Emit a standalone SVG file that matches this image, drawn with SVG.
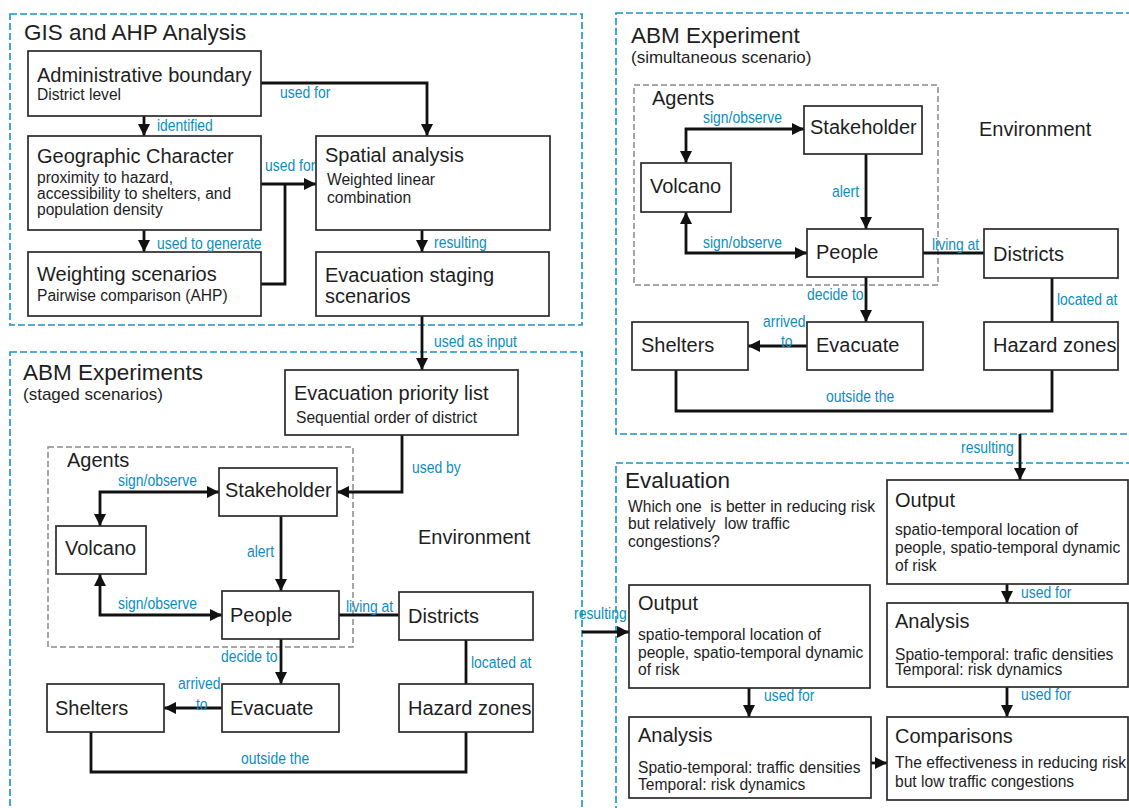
<svg xmlns="http://www.w3.org/2000/svg" width="1129" height="808" viewBox="0 0 1129 808">
  <style>
    .panel { fill: none; stroke: #1a93c4; stroke-width: 1.6; stroke-dasharray: 7 3; }
    .agents { fill: none; stroke: #8a8a8a; stroke-width: 1.5; stroke-dasharray: 6 3; }
    .box { fill: #fff; stroke: #2b2b2b; stroke-width: 1.7; }
    .wire { fill: none; stroke: #111; stroke-width: 2.8; stroke-linejoin: miter; }
    .arr { marker-end: url(#head); }
    .both { marker-start: url(#head); marker-end: url(#head); }
    text { font-family: "Liberation Sans", Arial, sans-serif; fill: #1e1e1e; }
    .ptitle { font-size: 22.5px; }
    .psub { font-size: 17px; }
    .title { font-size: 20px; }
    .sub { font-size: 15.6px; }
    .env { font-size: 20px; }
    .lbl { font-size: 17px; fill: #0c8dc0; }
    .pre { white-space: pre; }
  </style>
  <defs>
    <marker id="head" viewBox="0 0 12 12" refX="12" refY="6" markerWidth="12" markerHeight="12" markerUnits="userSpaceOnUse" orient="auto-start-reverse">
      <path d="M0,0 L12,6 L0,12 z" fill="#111"/>
    </marker>
  </defs>

  <rect width="1129" height="808" fill="#fff"/>

  <!-- Panel frames -->
  <g id="panels">
    <rect class="panel" x="10" y="14" width="572" height="311"/>
    <rect class="panel" x="10" y="352" width="572" height="470"/>
    <rect class="panel" x="616" y="13" width="520" height="421"/>
    <rect class="panel" x="616" y="463" width="520" height="360"/>
    <rect class="agents" x="48" y="447" width="305" height="200"/>
    <rect class="agents" x="634" y="85" width="304" height="200"/>
  </g>

  <!-- Panel headings -->
  <g id="headings">
    <text class="ptitle" x="24" y="40">GIS and AHP Analysis</text>
    <text class="ptitle" x="23" y="380">ABM Experiments</text>
    <text class="psub" x="23" y="400">(staged scenarios)</text>
    <text class="ptitle" x="631" y="43">ABM Experiment</text>
    <text class="psub" x="631" y="63">(simultaneous scenario)</text>
    <text class="ptitle" x="625" y="488">Evaluation</text>
    <text class="sub pre" xml:space="preserve" x="628" y="512">Which one  is better in reducing risk</text>
    <text class="sub pre" xml:space="preserve" x="628" y="529">but relatively  low traffic</text>
    <text class="sub" x="628" y="547">congestions?</text>
    <text class="env" x="67" y="467">Agents</text>
    <text class="env" x="652" y="105">Agents</text>
    <text class="env" x="418" y="544">Environment</text>
    <text class="env" x="979" y="136">Environment</text>
  </g>

  <!-- Connectors -->
  <g id="connectors">
    <polyline class="wire arr" points="261,83 427,83 427,136"/>
    <line class="wire arr" x1="144" y1="116" x2="144" y2="136"/>
    <line class="wire arr" x1="144" y1="230" x2="144" y2="252"/>
    <line class="wire arr" x1="261" y1="184" x2="316" y2="184"/>
    <polyline class="wire" points="261,284 285,284 285,184"/>
    <line class="wire arr" x1="422" y1="230" x2="422" y2="252"/>
    <line class="wire arr" x1="422" y1="316" x2="422" y2="370"/>

    <polyline class="wire arr" points="402,435 402,492 337,492"/>
    <polyline class="wire both" points="219,492 100,492 100,526"/>
    <line class="wire arr" x1="281" y1="516" x2="281" y2="591"/>
    <polyline class="wire both" points="100,574 100,615 222,615"/>
    <line class="wire" x1="339" y1="615" x2="399" y2="615"/>
    <line class="wire" x1="466" y1="640" x2="466" y2="684"/>
    <line class="wire arr" x1="281" y1="639" x2="281" y2="684"/>
    <line class="wire arr" x1="222" y1="708" x2="164" y2="708"/>
    <polyline class="wire" points="91,732 91,772 466,772 466,732"/>

    <polyline class="wire both" points="804,129 686,129 686,163"/>
    <line class="wire arr" x1="866" y1="154" x2="866" y2="229"/>
    <polyline class="wire both" points="686,212 686,253 807,253"/>
    <line class="wire" x1="923" y1="253" x2="984" y2="253"/>
    <line class="wire arr" x1="866" y1="277" x2="866" y2="322"/>
    <line class="wire" x1="1052" y1="278" x2="1052" y2="322"/>
    <line class="wire arr" x1="807" y1="346" x2="748" y2="346"/>
    <polyline class="wire" points="676,370 676,411 1052,411 1052,370"/>
    <line class="wire arr" x1="1020" y1="434" x2="1020" y2="480"/>

    <line class="wire arr" x1="582" y1="632" x2="629" y2="632"/>
    <line class="wire arr" x1="749" y1="688" x2="749" y2="717"/>
    <line class="wire arr" x1="871" y1="763" x2="887" y2="763"/>
    <line class="wire arr" x1="1007" y1="584" x2="1007" y2="603"/>
    <line class="wire arr" x1="1007" y1="687" x2="1007" y2="717"/>
  </g>

  <!-- GIS and AHP analysis nodes -->
  <g id="admin-boundary">
    <rect class="box" x="28" y="51" width="233" height="65"/>
    <text class="title" x="37" y="82">Administrative boundary</text>
    <text class="sub" x="37" y="100">District level</text>
  </g>
  <g id="geographic-character">
    <rect class="box" x="28" y="136" width="233" height="94"/>
    <text class="title" x="37" y="163">Geographic Character</text>
    <text class="sub" x="37" y="183">proximity to hazard,</text>
    <text class="sub" x="37" y="199">accessibility to shelters, and</text>
    <text class="sub" x="37" y="215">population density</text>
  </g>
  <g id="weighting-scenarios">
    <rect class="box" x="28" y="252" width="233" height="64"/>
    <text class="title" x="37" y="281">Weighting scenarios</text>
    <text class="sub" x="37" y="301">Pairwise comparison (AHP)</text>
  </g>
  <g id="spatial-analysis">
    <rect class="box" x="316" y="136" width="234" height="94"/>
    <text class="title" x="325" y="162">Spatial analysis</text>
    <text class="sub" x="327" y="185">Weighted linear</text>
    <text class="sub" x="327" y="203">combination</text>
  </g>
  <g id="evacuation-staging">
    <rect class="box" x="316" y="252" width="233" height="64"/>
    <text class="title" x="325" y="282">Evacuation staging</text>
    <text class="title" x="325" y="303">scenarios</text>
  </g>

  <!-- ABM staged scenario nodes -->
  <g id="priority-list">
    <rect class="box" x="285" y="370" width="233" height="65"/>
    <text class="title" x="294" y="400">Evacuation priority list</text>
    <text class="sub" x="296" y="423">Sequential order of district</text>
  </g>
  <g id="staged-stakeholder">
    <rect class="box" x="219" y="468" width="118" height="48"/>
    <text class="title" x="225" y="497">Stakeholder</text>
  </g>
  <g id="staged-volcano">
    <rect class="box" x="56" y="526" width="90" height="48"/>
    <text class="title" x="65" y="555">Volcano</text>
  </g>
  <g id="staged-people">
    <rect class="box" x="222" y="591" width="117" height="48"/>
    <text class="title" x="230" y="622">People</text>
  </g>
  <g id="staged-districts">
    <rect class="box" x="399" y="592" width="134" height="48"/>
    <text class="title" x="408" y="623">Districts</text>
  </g>
  <g id="staged-evacuate">
    <rect class="box" x="222" y="684" width="117" height="48"/>
    <text class="title" x="230" y="715">Evacuate</text>
  </g>
  <g id="staged-shelters">
    <rect class="box" x="47" y="684" width="117" height="48"/>
    <text class="title" x="55" y="715">Shelters</text>
  </g>
  <g id="staged-hazard">
    <rect class="box" x="399" y="684" width="134" height="48"/>
    <text class="title" x="408" y="715">Hazard zones</text>
  </g>

  <!-- ABM simultaneous scenario nodes -->
  <g id="sim-stakeholder">
    <rect class="box" x="804" y="106" width="118" height="48"/>
    <text class="title" x="810" y="134">Stakeholder</text>
  </g>
  <g id="sim-volcano">
    <rect class="box" x="641" y="163" width="90" height="49"/>
    <text class="title" x="650" y="193">Volcano</text>
  </g>
  <g id="sim-people">
    <rect class="box" x="807" y="229" width="116" height="48"/>
    <text class="title" x="816" y="259">People</text>
  </g>
  <g id="sim-districts">
    <rect class="box" x="984" y="229" width="134" height="49"/>
    <text class="title" x="993" y="261">Districts</text>
  </g>
  <g id="sim-evacuate">
    <rect class="box" x="807" y="322" width="116" height="48"/>
    <text class="title" x="816" y="352">Evacuate</text>
  </g>
  <g id="sim-shelters">
    <rect class="box" x="632" y="322" width="116" height="48"/>
    <text class="title" x="641" y="352">Shelters</text>
  </g>
  <g id="sim-hazard">
    <rect class="box" x="984" y="322" width="134" height="48"/>
    <text class="title" x="993" y="352">Hazard zones</text>
  </g>

  <!-- Evaluation nodes -->
  <g id="output-staged">
    <rect class="box" x="629" y="585" width="241" height="103"/>
    <text class="title" x="638" y="610">Output</text>
    <text class="sub" x="638" y="640">spatio-temporal location of</text>
    <text class="sub" x="638" y="658">people, spatio-temporal dynamic</text>
    <text class="sub" x="638" y="675">of risk</text>
  </g>
  <g id="analysis-staged">
    <rect class="box" x="629" y="717" width="242" height="81"/>
    <text class="title" x="638" y="742">Analysis</text>
    <text class="sub" x="638" y="773">Spatio-temporal: traffic densities</text>
    <text class="sub" x="638" y="790">Temporal: risk dynamics</text>
  </g>
  <g id="output-sim">
    <rect class="box" x="887" y="480" width="241" height="104"/>
    <text class="title" x="895" y="507">Output</text>
    <text class="sub" x="895" y="535">spatio-temporal location of</text>
    <text class="sub" x="895" y="553">people, spatio-temporal dynamic</text>
    <text class="sub" x="895" y="571">of risk</text>
  </g>
  <g id="analysis-sim">
    <rect class="box" x="887" y="603" width="241" height="84"/>
    <text class="title" x="895" y="628">Analysis</text>
    <text class="sub" x="895" y="660">Spatio-temporal: trafic densities</text>
    <text class="sub" x="895" y="675">Temporal: risk dynamics</text>
  </g>
  <g id="comparisons">
    <rect class="box" x="887" y="717" width="241" height="83"/>
    <text class="title" x="895" y="743">Comparisons</text>
    <text class="sub" x="895" y="768">The effectiveness in reducing risk</text>
    <text class="sub" x="895" y="787">but low traffic congestions</text>
  </g>

  <!-- Connector labels (condensed) -->
  <g id="labels">
    <text class="lbl" transform="translate(280 98) scale(0.82 1)">used for</text>
    <text class="lbl" transform="translate(157 131) scale(0.82 1)">identified</text>
    <text class="lbl" transform="translate(265 171) scale(0.82 1)">used for</text>
    <text class="lbl" transform="translate(157 249) scale(0.82 1)">used to generate</text>
    <text class="lbl" transform="translate(434 248) scale(0.82 1)">resulting</text>
    <text class="lbl" transform="translate(434 347) scale(0.82 1)">used as input</text>
    <text class="lbl" transform="translate(412 473) scale(0.82 1)">used by</text>
    <text class="lbl" transform="translate(118 486) scale(0.82 1)">sign/observe</text>
    <text class="lbl" transform="translate(247 557) scale(0.82 1)">alert</text>
    <text class="lbl" transform="translate(118 609) scale(0.82 1)">sign/observe</text>
    <text class="lbl" transform="translate(346 612) scale(0.82 1)">living at</text>
    <text class="lbl" transform="translate(221 662) scale(0.82 1)">decide to</text>
    <text class="lbl" transform="translate(471 668) scale(0.82 1)">located at</text>
    <text class="lbl" transform="translate(178 689) scale(0.82 1)">arrived</text>
    <text class="lbl" transform="translate(196 710) scale(0.82 1)">to</text>
    <text class="lbl" transform="translate(241 764) scale(0.82 1)">outside the</text>

    <text class="lbl" transform="translate(703 123) scale(0.82 1)">sign/observe</text>
    <text class="lbl" transform="translate(832 197) scale(0.82 1)">alert</text>
    <text class="lbl" transform="translate(703 248) scale(0.82 1)">sign/observe</text>
    <text class="lbl" transform="translate(932 250) scale(0.82 1)">living at</text>
    <text class="lbl" transform="translate(807 300) scale(0.82 1)">decide to</text>
    <text class="lbl" transform="translate(1057 305) scale(0.82 1)">located at</text>
    <text class="lbl" transform="translate(763 327) scale(0.82 1)">arrived</text>
    <text class="lbl" transform="translate(781 347) scale(0.82 1)">to</text>
    <text class="lbl" transform="translate(826 402) scale(0.82 1)">outside the</text>
    <text class="lbl" transform="translate(961 453) scale(0.82 1)">resulting</text>

    <text class="lbl" transform="translate(574 619) scale(0.82 1)">resulting</text>
    <text class="lbl" transform="translate(764 701) scale(0.82 1)">used for</text>
    <text class="lbl" transform="translate(1021 598) scale(0.82 1)">used for</text>
    <text class="lbl" transform="translate(1021 700) scale(0.82 1)">used for</text>
  </g>
</svg>
